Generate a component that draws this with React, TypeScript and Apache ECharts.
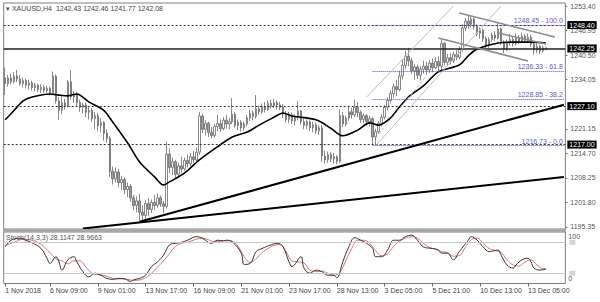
import React, { useEffect, useRef } from 'react';
import * as echarts from 'echarts';

const SLOT_COUNT = 188;
const xTickIndex = [0, 15, 31, 47, 63, 79, 95, 111, 127, 143, 159, 175];
const xTickLabels = ['1 Nov 2018', '6 Nov 09:00', '9 Nov 01:00', '13 Nov 17:00', '16 Nov 09:00', '21 Nov 01:00', '23 Nov 17:00', '28 Nov 13:00', '3 Dec 05:00', '5 Dec 21:00', '10 Dec 13:00', '13 Dec 05:00'];
const priceTicks = [1195.35, 1201.8, 1208.25, 1214.7, 1221.15, 1234.05, 1240.5, 1246.95, 1253.4];
const stochScaleLabels = [100, 0];
const stochLevels = [80, 20];

// [open, close, low, high]
const candles = [
  [1234.5, 1233.0, 1230.0, 1237.3], [1233.0, 1234.5, 1232.2, 1235.3], [1234.5, 1233.5, 1232.8, 1235.6], [1233.5, 1235.0, 1233.0, 1236.0],
  [1235.0, 1234.2, 1233.4, 1236.6], [1234.2, 1233.0, 1232.4, 1235.2], [1233.0, 1233.8, 1232.0, 1234.6], [1233.8, 1232.6, 1231.8, 1234.4],
  [1232.6, 1233.2, 1231.5, 1234.0], [1233.2, 1232.0, 1231.2, 1233.8], [1232.0, 1232.6, 1231.0, 1233.2], [1232.6, 1231.5, 1230.8, 1233.0],
  [1231.5, 1232.0, 1230.6, 1232.8], [1232.0, 1231.2, 1230.5, 1232.6], [1231.2, 1231.8, 1230.6, 1232.4], [1231.8, 1230.6, 1229.9, 1232.2],
  [1230.6, 1235.0, 1230.0, 1236.2], [1235.0, 1228.5, 1227.8, 1235.4], [1228.5, 1226.0, 1223.5, 1229.5], [1226.0, 1228.0, 1225.0, 1229.8],
  [1228.0, 1227.2, 1226.2, 1229.0], [1227.2, 1233.5, 1226.8, 1234.0], [1233.5, 1229.5, 1228.8, 1236.6], [1229.5, 1230.2, 1228.0, 1231.0],
  [1230.2, 1228.0, 1227.0, 1230.8], [1228.0, 1226.8, 1225.6, 1228.8], [1226.8, 1227.4, 1225.2, 1228.0], [1227.4, 1225.5, 1224.2, 1228.0],
  [1225.5, 1226.0, 1223.6, 1226.8], [1226.0, 1223.8, 1223.0, 1226.6], [1223.8, 1224.6, 1221.0, 1225.6], [1224.6, 1222.0, 1220.6, 1225.4],
  [1222.0, 1222.8, 1220.2, 1224.0], [1222.8, 1220.0, 1218.0, 1223.2], [1220.0, 1218.6, 1217.5, 1221.0], [1218.6, 1210.0, 1208.5, 1219.2],
  [1210.0, 1208.0, 1206.5, 1211.2], [1208.0, 1209.8, 1207.0, 1211.0], [1209.8, 1207.0, 1205.8, 1210.6], [1207.0, 1207.8, 1205.0, 1208.8],
  [1207.8, 1205.2, 1204.0, 1208.4], [1205.2, 1206.0, 1203.2, 1207.0], [1206.0, 1203.0, 1202.0, 1206.6], [1203.0, 1201.0, 1199.8, 1203.8],
  [1201.0, 1202.2, 1199.2, 1203.4], [1202.2, 1199.2, 1197.0, 1204.0], [1199.2, 1198.4, 1196.4, 1201.0], [1198.4, 1201.5, 1197.0, 1202.4],
  [1201.5, 1200.0, 1198.2, 1203.0], [1200.0, 1201.8, 1199.0, 1202.6], [1201.8, 1201.0, 1199.8, 1203.8], [1201.0, 1203.0, 1200.4, 1204.2],
  [1203.0, 1201.4, 1200.6, 1203.6], [1201.4, 1200.8, 1199.0, 1202.2], [1200.8, 1214.5, 1200.2, 1217.8], [1214.5, 1211.0, 1209.5, 1216.0],
  [1211.0, 1212.5, 1209.0, 1213.6], [1212.5, 1209.2, 1208.0, 1213.0], [1209.2, 1211.4, 1208.4, 1212.2], [1211.4, 1210.6, 1209.4, 1213.8],
  [1210.6, 1212.8, 1210.0, 1213.6], [1212.8, 1212.0, 1211.0, 1214.4], [1212.0, 1213.8, 1211.4, 1214.8], [1213.8, 1213.0, 1212.2, 1215.4],
  [1213.0, 1215.0, 1212.4, 1216.2], [1215.0, 1224.5, 1214.4, 1225.6], [1224.5, 1221.0, 1220.0, 1225.0], [1221.0, 1222.6, 1219.4, 1223.4],
  [1222.6, 1220.2, 1219.0, 1223.0], [1220.2, 1219.4, 1218.6, 1221.6], [1219.4, 1221.8, 1218.8, 1222.4], [1221.8, 1222.5, 1220.6, 1224.8],
  [1222.5, 1221.2, 1220.4, 1223.6], [1221.2, 1223.4, 1220.8, 1224.2], [1223.4, 1222.4, 1221.2, 1224.8], [1222.4, 1223.0, 1221.0, 1224.0],
  [1223.0, 1225.0, 1222.4, 1229.2], [1225.0, 1222.0, 1221.4, 1225.6], [1222.0, 1222.8, 1220.8, 1223.6], [1222.8, 1221.4, 1220.4, 1223.4],
  [1221.4, 1222.4, 1220.6, 1223.0], [1222.4, 1224.0, 1221.8, 1224.8], [1224.0, 1225.2, 1223.2, 1226.2], [1225.2, 1224.4, 1223.4, 1226.0],
  [1224.4, 1226.4, 1223.8, 1230.0], [1226.4, 1225.6, 1224.8, 1227.2], [1225.6, 1227.0, 1225.0, 1227.8], [1227.0, 1226.2, 1225.4, 1228.2],
  [1226.2, 1227.8, 1225.8, 1228.6], [1227.8, 1227.2, 1226.4, 1228.8], [1227.2, 1228.0, 1226.6, 1229.0], [1228.0, 1227.4, 1226.2, 1228.6],
  [1227.4, 1226.8, 1226.0, 1228.2], [1226.8, 1225.0, 1224.0, 1227.6], [1225.0, 1223.6, 1222.8, 1225.8], [1223.6, 1224.8, 1222.6, 1225.6],
  [1224.8, 1223.2, 1222.4, 1225.4], [1223.2, 1224.2, 1222.0, 1225.0], [1224.2, 1225.8, 1223.4, 1228.4], [1225.8, 1223.0, 1222.2, 1226.2],
  [1223.0, 1222.0, 1221.0, 1223.8], [1222.0, 1223.0, 1221.0, 1223.6], [1223.0, 1221.4, 1220.6, 1223.4], [1221.4, 1222.2, 1220.2, 1223.0],
  [1222.2, 1220.6, 1219.8, 1222.8], [1220.6, 1221.4, 1219.6, 1222.0], [1221.4, 1214.0, 1212.4, 1222.2], [1214.0, 1213.0, 1212.0, 1215.4],
  [1213.0, 1214.4, 1212.2, 1215.2], [1214.4, 1213.2, 1212.4, 1215.0], [1213.2, 1213.8, 1212.0, 1214.8], [1213.8, 1212.6, 1211.8, 1214.2],
  [1212.6, 1224.6, 1212.2, 1226.2], [1224.6, 1222.4, 1221.6, 1225.6], [1222.4, 1224.0, 1221.8, 1224.6], [1224.0, 1225.6, 1223.2, 1227.2],
  [1225.6, 1224.8, 1223.8, 1226.6], [1224.8, 1226.8, 1224.2, 1228.8], [1226.8, 1225.4, 1224.2, 1228.2], [1225.4, 1223.6, 1222.8, 1226.0],
  [1223.6, 1224.6, 1222.6, 1225.2], [1224.6, 1223.0, 1222.0, 1225.0], [1223.0, 1223.8, 1221.8, 1224.6], [1223.8, 1219.0, 1217.0, 1224.2],
  [1219.0, 1220.4, 1216.7, 1221.2], [1220.4, 1222.6, 1219.8, 1223.2], [1222.6, 1224.2, 1221.8, 1225.0], [1224.2, 1226.8, 1223.6, 1227.4],
  [1226.8, 1228.6, 1226.0, 1229.4], [1228.6, 1230.4, 1227.8, 1231.2], [1230.4, 1232.2, 1229.4, 1233.0], [1232.2, 1231.4, 1229.8, 1234.0],
  [1231.4, 1235.0, 1231.0, 1236.4], [1235.0, 1237.8, 1234.2, 1239.4], [1237.8, 1240.2, 1236.8, 1241.6], [1240.2, 1239.0, 1237.6, 1242.4],
  [1239.0, 1236.4, 1235.6, 1239.8], [1236.4, 1237.4, 1234.0, 1238.2], [1237.4, 1235.2, 1234.2, 1238.0], [1235.2, 1236.8, 1233.8, 1237.6],
  [1236.8, 1237.6, 1235.6, 1239.0], [1237.6, 1236.6, 1235.4, 1238.8], [1236.6, 1238.4, 1235.8, 1239.2], [1238.4, 1237.2, 1236.0, 1239.6],
  [1237.2, 1238.8, 1236.8, 1240.0], [1238.8, 1237.6, 1236.4, 1240.2], [1237.6, 1243.6, 1236.0, 1244.6], [1243.6, 1238.6, 1237.8, 1244.0],
  [1238.6, 1239.8, 1237.6, 1240.8], [1239.8, 1239.0, 1238.0, 1241.0], [1239.0, 1240.6, 1238.4, 1241.4], [1240.6, 1240.0, 1239.2, 1241.8],
  [1240.0, 1242.0, 1239.4, 1242.8], [1242.0, 1247.6, 1241.4, 1248.6], [1247.6, 1249.4, 1246.8, 1250.2], [1249.4, 1248.6, 1247.4, 1251.0],
  [1248.6, 1250.0, 1247.8, 1250.8], [1250.0, 1248.0, 1247.2, 1250.4], [1248.0, 1246.2, 1245.4, 1248.6], [1246.2, 1247.0, 1244.8, 1247.8],
  [1247.0, 1244.8, 1244.0, 1247.4], [1244.8, 1243.0, 1242.2, 1245.4], [1243.0, 1244.6, 1242.4, 1245.2], [1244.6, 1245.8, 1244.0, 1246.4],
  [1245.8, 1245.0, 1244.2, 1246.8], [1245.0, 1247.4, 1244.6, 1249.0], [1247.4, 1244.0, 1243.2, 1247.8], [1244.0, 1242.0, 1241.0, 1244.4],
  [1242.0, 1243.8, 1241.6, 1244.6], [1243.8, 1244.6, 1243.0, 1246.0], [1244.6, 1243.6, 1242.8, 1245.4], [1243.6, 1245.0, 1243.0, 1246.2],
  [1245.0, 1244.2, 1243.4, 1245.8], [1244.2, 1245.4, 1243.6, 1246.4], [1245.4, 1244.4, 1243.6, 1246.0], [1244.4, 1245.2, 1243.8, 1246.2],
  [1245.2, 1243.4, 1242.6, 1245.8], [1243.4, 1241.8, 1240.6, 1243.8], [1241.8, 1242.8, 1241.0, 1243.6], [1242.8, 1241.6, 1240.8, 1243.2],
  [1241.6, 1242.4, 1241.2, 1243.0], [1242.43, 1242.08, 1241.77, 1242.46],
];

// moving average read at sample bars: [bar, price]
const maPoints = [
  [0, 1223.5], [3, 1226.0], [6, 1228.5], [9, 1229.5], [15, 1230.3], [18, 1230.0], [21, 1229.8], [24, 1230.3], [28, 1228.2],
  [33, 1226.0], [36, 1222.9], [41, 1217.4], [45, 1212.4], [50, 1208.5], [53, 1206.4], [55, 1207.2], [60, 1209.5], [65, 1213.0],
  [71, 1216.4], [76, 1219.0], [81, 1220.3], [85, 1222.1], [90, 1224.2], [93, 1225.3], [96, 1224.5], [104, 1223.5], [109, 1221.3],
  [113, 1219.3], [118, 1220.8], [122, 1222.7], [125, 1222.1], [129, 1224.0], [132, 1226.9], [135, 1229.5], [138, 1231.3],
  [140, 1232.4], [145, 1236.1], [152, 1237.9], [155, 1240.3], [158, 1242.1], [165, 1243.7], [170, 1243.9], [176, 1243.9], [181, 1243.7],
];

const stochMain = [
  [0, 71], [2, 84], [5, 88], [7, 84], [9, 79], [12, 68], [14, 49], [15, 39], [17, 52], [18, 42], [19, 26], [21, 46], [23, 52], [24, 42],
  [26, 23], [28, 13], [30, 20], [32, 16], [34, 10], [36, 8], [38, 10], [40, 9], [42, 4], [43, 7], [45, 10], [47, 16], [49, 33], [51, 42],
  [53, 55], [55, 75], [57, 78], [59, 80], [61, 84], [64, 91], [66, 88], [69, 78], [71, 84], [73, 83], [74, 84], [76, 81], [79, 59], [80, 37],
  [82, 39], [84, 62], [86, 68], [89, 75], [91, 78], [93, 71], [95, 42], [96, 33], [99, 52], [100, 30], [102, 20], [104, 26], [106, 23],
  [108, 16], [110, 16], [111, 11], [113, 42], [115, 71], [117, 89], [119, 84], [121, 78], [123, 68], [124, 52], [126, 52], [128, 65],
  [130, 84], [132, 84], [134, 91], [136, 94], [138, 84], [140, 71], [143, 68], [145, 65], [146, 59], [148, 59], [150, 46], [152, 62],
  [155, 84], [156, 91], [158, 84], [160, 71], [162, 62], [165, 65], [166, 55], [168, 36], [170, 30], [171, 36], [173, 46], [175, 49],
  [176, 42], [177, 30], [179, 26], [181, 28.1],
];

const stochSignal = [
  [0, 74], [3, 80], [6, 86], [9, 84], [12, 76], [15, 60], [17, 48], [19, 44], [21, 38], [23, 44], [25, 44], [27, 32], [29, 20], [31, 17],
  [33, 16], [35, 12], [37, 9], [39, 9], [41, 8], [43, 6], [45, 7], [47, 11], [49, 20], [51, 32], [53, 44], [55, 58], [57, 72], [59, 78],
  [61, 80], [64, 86], [66, 88], [68, 85], [70, 81], [72, 82], [74, 83], [76, 82], [78, 72], [80, 52], [82, 41], [84, 48], [86, 60],
  [88, 68], [90, 74], [92, 76], [94, 62], [96, 44], [98, 42], [100, 40], [102, 26], [104, 23], [106, 24], [108, 20], [110, 16], [112, 22],
  [114, 44], [116, 68], [118, 84], [120, 84], [122, 78], [124, 64], [126, 54], [128, 58], [130, 72], [132, 82], [134, 88], [136, 91],
  [138, 88], [140, 78], [142, 70], [144, 67], [146, 62], [148, 60], [150, 53], [152, 54], [154, 70], [156, 85], [158, 88], [160, 78],
  [162, 68], [164, 64], [166, 60], [168, 46], [170, 36], [172, 34], [174, 42], [176, 46], [178, 36], [180, 29], [181, 29.0],
];

const levelLines = [
  { value: 1248.4, label: '1248.40', solid: false },
  { value: 1242.25, label: '1242.25', solid: true },
  { value: 1227.1, label: '1227.10', solid: false },
  { value: 1217.0, label: '1217.00', solid: false },
];

const fibStartBar = 123;
const fibLevels = [
  { value: 1248.45, label: '1248.45 - 100.0' },
  { value: 1236.33, label: '1236.33 - 61.8' },
  { value: 1228.85, label: '1228.85 - 38.2' },
  { value: 1216.73, label: '1216.73 - 0.0' },
];

// [[bar, price], [bar, price]]
const trendLines = [
  [[26, 1194.96], [187, 1208.48]],
  [[45, 1196.74], [187, 1227.47]],
];
const channelLines = [
  [[120.5, 1229.5], [150.0, 1253.4]],
  [[124, 1216.7], [166.0, 1253.4]],
];
const channelMid = [
  [[125, 1219.8], [141, 1235.0]],
];
const wedgeLines = [
  [[152.2, 1251.56], [184.0, 1245.26]],
  [[144.5, 1245.0], [174.7, 1238.95]],
  [[164.6, 1246.31], [181.4, 1243.42]],
];

const categories = Array.from({ length: SLOT_COUNT }, (_, i) => String(i));
const FONT = '"Liberation Sans", Arial, sans-serif';

function segs(list: number[][][], style: any) {
  return list.map(([a, b]) => [
    { coord: a, lineStyle: style, label: { show: false } },
    { coord: b },
  ]);
}

export default function App() {
  const ref = useRef<HTMLDivElement>(null);
  useEffect(() => {
    if (!ref.current) return;
    const chart = echarts.init(ref.current, null, { renderer: 'svg' });
    const gridLeft = 3.7;
    const gridWidth = 561.65;
    const baseGraphic: any[] = [
      { type: 'rect', left: 3, top: 229, shape: { width: 563, height: 3 }, style: { fill: '#a8a8a8' }, z: 10 },
      { type: 'text', left: 6, top: 5, style: { text: '▾ XAUUSD,H4  1242.43 1242.46 1241.77 1242.08', font: `7px ${FONT}`, fill: '#444' }, z: 10 },
      { type: 'text', left: 6, top: 234, style: { text: 'Stoch(14,3,3) 28.1147 28.9663', font: `7px ${FONT}`, fill: '#555' }, z: 10 },
    ];
    const option: any = {
      animation: false,
      backgroundColor: '#ffffff',
      textStyle: { fontFamily: FONT },
      grid: [
        { left: gridLeft, top: 3, width: gridWidth, height: 226, show: true, borderColor: '#808080', borderWidth: 1, backgroundColor: 'transparent' },
        { left: gridLeft, top: 232, width: gridWidth, height: 51.5, show: true, borderColor: '#808080', borderWidth: 1, backgroundColor: 'transparent' },
      ],
      xAxis: [
        { type: 'category', gridIndex: 0, data: categories, boundaryGap: true, axisLine: { show: false }, axisTick: { show: false }, axisLabel: { show: false }, splitLine: { show: false } },
        {
          type: 'category', gridIndex: 1, data: categories, boundaryGap: true, position: 'bottom',
          axisLine: { show: false },
          axisTick: { show: true, length: 3, alignWithLabel: true, interval: (i: number) => xTickIndex.includes(i), lineStyle: { color: '#666' } },
          axisLabel: {
            show: true, interval: (i: number) => xTickIndex.includes(i), align: 'left', margin: 3,
            fontSize: 7, color: '#444', fontFamily: FONT,
            formatter: (v: string) => { const k = xTickIndex.indexOf(Number(v)); return k >= 0 ? xTickLabels[k] : ''; },
          },
          splitLine: { show: false },
        },
      ],
      yAxis: [
        {
          type: 'value', gridIndex: 0, position: 'right', min: 1194.82, max: 1254.19, scale: true,
          splitLine: { show: false }, axisLine: { show: false },
          axisTick: { show: true, length: 2, customValues: priceTicks, lineStyle: { color: '#666' } },
          axisLabel: { customValues: priceTicks, fontSize: 7, color: '#555', margin: 5, fontFamily: FONT, formatter: (v: number) => v.toFixed(2) },
        },
        {
          type: 'value', gridIndex: 1, position: 'right', min: 0, max: 100,
          splitLine: { show: false }, axisLine: { show: false }, axisTick: { show: false }, axisLabel: { show: false },
        },
      ],
      graphic: baseGraphic,
      series: [
        {
          name: 'XAUUSD', type: 'candlestick', xAxisIndex: 0, yAxisIndex: 0, data: candles, barWidth: 2,
          itemStyle: { color: '#ffffff', color0: '#a0a0a0', borderColor: '#6a6a6a', borderColor0: '#6a6a6a', borderWidth: 0.8 },
          markLine: {
            silent: true, symbol: ['none', 'none'], animation: false,
            data: [
              ...levelLines.map((l) => ({
                yAxis: l.value,
                lineStyle: l.solid ? { color: '#222', width: 1.5, type: 'solid' } : { color: '#333', width: 1, type: [2, 2] },
                label: { show: true, position: 'end', formatter: l.label, distance: 2, backgroundColor: '#000', color: '#fff', fontSize: 7, padding: [1, 2, 0, 2], fontFamily: FONT },
              })),
              ...fibLevels.map((f) => [
                {
                  coord: [fibStartBar, f.value],
                  lineStyle: { color: '#5050c8', width: 1, type: [1, 1] },
                  label: { show: true, position: 'insideEndTop', formatter: f.label, color: '#5a5ad2', fontSize: 7, distance: 1, fontFamily: FONT },
                },
                { coord: [SLOT_COUNT - 1, f.value] },
              ]),
              ...segs(trendLines, { color: '#000', width: 2, type: 'solid' }),
              ...segs(channelLines, { color: '#bdbdbd', width: 1, type: 'solid' }),
              ...segs(channelMid, { color: '#bdbdbd', width: 1, type: [3, 2] }),
              ...segs(wedgeLines, { color: '#8c8c8c', width: 1.5, type: 'solid' }),
            ],
          },
          z: 3,
        },
        {
          name: 'MA', type: 'line', xAxisIndex: 0, yAxisIndex: 0, data: maPoints, showSymbol: false, smooth: 0.3,
          lineStyle: { color: '#000', width: 1.6 }, z: 4,
        },
        {
          name: 'Stoch', type: 'line', xAxisIndex: 1, yAxisIndex: 1, data: stochMain, showSymbol: false, smooth: 0.4,
          lineStyle: { color: '#333', width: 1 }, z: 4,
          markLine: {
            silent: true, symbol: ['none', 'none'],
            data: stochLevels.map((v) => ({
              yAxis: v, lineStyle: { color: '#c8c8c8', width: 1, type: 'solid' },
              label: { show: true, position: 'end', distance: 4, formatter: '{box|}', rich: { box: { width: 6, height: 5, backgroundColor: '#d4d4d4' } } },
            })),
          },
        },
        {
          name: 'Signal', type: 'line', xAxisIndex: 1, yAxisIndex: 1, data: stochSignal, showSymbol: false, smooth: 0.4,
          lineStyle: { color: '#e07070', width: 1 }, z: 3,
        },
      ],
    };
    chart.setOption(option);
    // stochastic scale labels positioned through the panel's own scale
    const extra: any[] = [];
    stochScaleLabels.forEach((v) => {
      const pt = chart.convertToPixel({ gridIndex: 1 }, [0, v]) as number[];
      const py = pt && isFinite(pt[1]) ? pt[1] : NaN;
      if (!isFinite(py)) return;
      extra.push({
        type: 'text', left: gridLeft + gridWidth + 3, top: v === 100 ? py + 1 : py - 8.5,
        style: { text: String(v), font: `7px ${FONT}`, fill: '#555' },
        z: 20,
      });
    });
    chart.setOption({ graphic: [...baseGraphic, ...extra] });
    return () => chart.dispose();
  }, []);
  return <div ref={ref} style={{ position: 'fixed', left: 0, top: 0, width: 600, height: 302, background: '#fff' }} />;
}
